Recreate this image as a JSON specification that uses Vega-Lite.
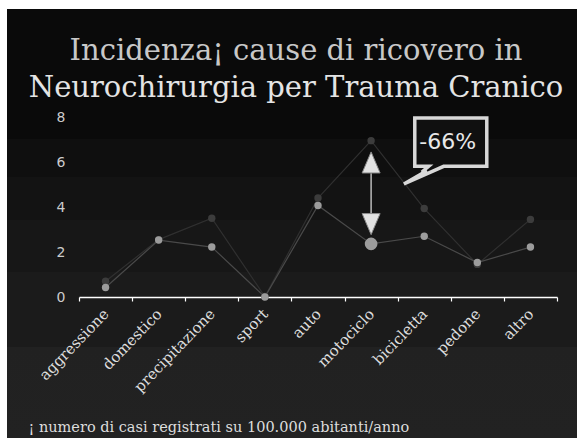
{
  "$schema": "https://vega.github.io/schema/vega-lite/v6.json",
  "width": 570,
  "height": 429,
  "autosize": {"type": "none"},
  "padding": {"left": 7, "top": 9, "right": 0, "bottom": 0},
  "background": "#ffffff",
  "config": {
    "view": {
      "stroke": null,
      "fill": {
        "gradient": "linear",
        "x1": 0, "y1": 0, "x2": 0, "y2": 1,
        "stops": [
          {"offset": 0, "color": "#0a0a0a"},
          {"offset": 0.303, "color": "#0a0a0a"},
          {"offset": 0.303, "color": "#0f0f0f"},
          {"offset": 0.392, "color": "#0f0f0f"},
          {"offset": 0.392, "color": "#131313"},
          {"offset": 0.492, "color": "#131313"},
          {"offset": 0.492, "color": "#171717"},
          {"offset": 0.613, "color": "#171717"},
          {"offset": 0.613, "color": "#1b1b1b"},
          {"offset": 0.788, "color": "#1b1b1b"},
          {"offset": 0.788, "color": "#212121"},
          {"offset": 1, "color": "#222222"}
        ]
      }
    },
    "axis": {"grid": false}
  },
  "title": {
    "text": "Incidenza¡ cause di ricovero in",
    "subtitle": "Neurochirurgia per Trauma Cranico",
    "orient": "top",
    "anchor": "middle",
    "frame": "group",
    "offset": -94,
    "dx": 4,
    "font": "DejaVu Serif",
    "fontSize": 29,
    "fontWeight": "normal",
    "color": "#c8c8c8",
    "subtitleFont": "DejaVu Serif",
    "subtitleFontSize": 29,
    "subtitleFontWeight": "normal",
    "subtitleColor": "#e4e4e4",
    "subtitlePadding": 8
  },
  "datasets": {
    "incidenza": [
      {"causa": "aggressione", "serie": "prima", "valore": 0.7},
      {"causa": "domestico", "serie": "prima", "valore": 2.55},
      {"causa": "precipitazione", "serie": "prima", "valore": 3.5},
      {"causa": "sport", "serie": "prima", "valore": 0.02},
      {"causa": "auto", "serie": "prima", "valore": 4.4},
      {"causa": "motociclo", "serie": "prima", "valore": 6.95},
      {"causa": "bicicletta", "serie": "prima", "valore": 3.93},
      {"causa": "pedone", "serie": "prima", "valore": 1.45},
      {"causa": "altro", "serie": "prima", "valore": 3.45},
      {"causa": "aggressione", "serie": "dopo", "valore": 0.42},
      {"causa": "domestico", "serie": "dopo", "valore": 2.53},
      {"causa": "precipitazione", "serie": "dopo", "valore": 2.22},
      {"causa": "sport", "serie": "dopo", "valore": 0.0},
      {"causa": "auto", "serie": "dopo", "valore": 4.07},
      {"causa": "motociclo", "serie": "dopo", "valore": 2.36},
      {"causa": "bicicletta", "serie": "dopo", "valore": 2.7},
      {"causa": "pedone", "serie": "dopo", "valore": 1.53},
      {"causa": "altro", "serie": "dopo", "valore": 2.22}
    ],
    "freccia": [
      {"causa": "motociclo", "valore": 5.5, "valore2": 3.7}
    ],
    "punte": [
      {"causa": "motociclo", "valore": 5.98, "verso": "su"},
      {"causa": "motociclo", "valore": 3.24, "verso": "giu"}
    ],
    "nota": [
      {"causa": "bicicletta", "valore": 6.89, "testo": "-66%"}
    ]
  },
  "encoding": {
    "x": {
      "field": "causa",
      "type": "nominal",
      "sort": null,
      "scale": {
        "type": "band",
        "domain": ["aggressione", "domestico", "precipitazione", "sport", "auto", "motociclo", "bicicletta", "pedone", "altro"],
        "range": [72, 550],
        "paddingInner": 0,
        "paddingOuter": 0
      },
      "axis": {
        "orient": "bottom",
        "offset": -141,
        "domainColor": "#ffffff",
        "domainWidth": 1.5,
        "tickColor": "#ffffff",
        "tickWidth": 1.2,
        "tickSize": 4,
        "tickBand": "extent",
        "labelAngle": -46,
        "labelAlign": "right",
        "labelBaseline": "middle",
        "labelFont": "DejaVu Serif",
        "labelFontSize": 15,
        "labelColor": "#dddddd",
        "labelPadding": 10,
        "title": "¡ numero di casi registrati su 100.000 abitanti/anno",
        "titleFont": "DejaVu Serif",
        "titleFontSize": 14.5,
        "titleFontWeight": "normal",
        "titleColor": "#dddddd",
        "titleAnchor": "start",
        "titleAlign": "left",
        "titleBaseline": "alphabetic",
        "titleX": 21,
        "titleY": 134
      }
    },
    "y": {
      "field": "valore",
      "type": "quantitative",
      "scale": {"domain": [0, 8], "range": [288, 108], "nice": false, "zero": true},
      "axis": {
        "orient": "left",
        "offset": -60,
        "domain": false,
        "ticks": false,
        "values": [0, 2, 4, 6, 8],
        "labelFont": "DejaVu Sans",
        "labelFontSize": 14,
        "labelColor": "#cccccc",
        "labelPadding": 2,
        "title": null
      }
    }
  },
  "layer": [
    {
      "data": {"name": "incidenza"},
      "mark": {"type": "line", "strokeWidth": 1.2},
      "encoding": {
        "stroke": {
          "field": "serie",
          "type": "nominal",
          "scale": {"domain": ["prima", "dopo"], "range": ["#303030", "#4a4a4a"]},
          "legend": null
        }
      }
    },
    {
      "data": {"name": "incidenza"},
      "mark": {"type": "point", "filled": true, "opacity": 1, "strokeWidth": 0},
      "encoding": {
        "fill": {
          "field": "serie",
          "type": "nominal",
          "scale": {"domain": ["prima", "dopo"], "range": ["#3c3c3c", "#9c9c9c"]},
          "legend": null
        },
        "size": {
          "condition": {"test": "datum.causa === 'motociclo' && datum.serie === 'dopo'", "value": 160},
          "value": 55
        }
      }
    },
    {
      "data": {"name": "freccia"},
      "mark": {"type": "rule", "color": "#bbbbbb", "strokeWidth": 1.5},
      "encoding": {
        "y2": {"field": "valore2"}
      }
    },
    {
      "data": {"name": "punte"},
      "mark": {"type": "point", "filled": true, "fill": "#e2e2e2", "stroke": "#8a8a8a", "strokeWidth": 1, "opacity": 1, "size": 324},
      "encoding": {
        "shape": {
          "field": "verso",
          "type": "nominal",
          "scale": {"domain": ["su", "giu"], "range": ["M0,-1.17L1,1.17L-1,1.17Z", "M0,1.17L1,-1.17L-1,-1.17Z"]},
          "legend": null
        }
      }
    },
    {
      "data": {"name": "nota"},
      "mark": {
        "type": "point",
        "shape": "M-0.96,-0.64L0.96,-0.64L0.96,0.65L-0.19,0.65L-1.25,1.12L-0.64,0.77L-0.77,0.8L-0.59,0.65L-0.96,0.65Z",
        "size": 5625,
        "filled": true,
        "fill": "#101010",
        "stroke": "#d8d8d8",
        "strokeWidth": 3.5,
        "opacity": 1
      },
      "encoding": {
        "x": {"field": "causa", "type": "nominal", "bandPosition": 1}
      }
    },
    {
      "data": {"name": "nota"},
      "mark": {
        "type": "text",
        "font": "DejaVu Sans",
        "fontSize": 22,
        "color": "#e8e8e8",
        "align": "center",
        "baseline": "middle",
        "dx": -3
      },
      "encoding": {
        "x": {"field": "causa", "type": "nominal", "bandPosition": 1},
        "text": {"field": "testo"}
      }
    }
  ]
}
